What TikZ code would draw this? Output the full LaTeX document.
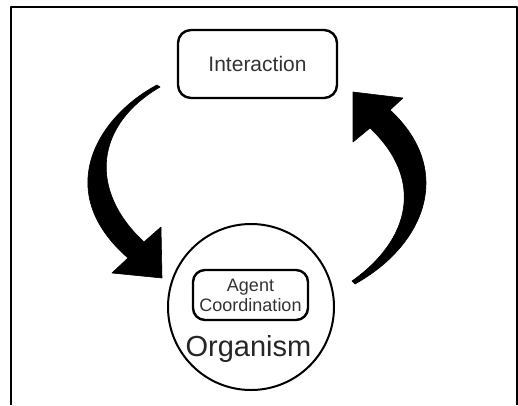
\documentclass[tikz,border=0pt]{standalone}
\usepackage{fontspec}
\setmainfont{Liberation Sans}

\begin{document}
\begin{tikzpicture}[x=1pt,y=-1pt,line join=round,
  box node/.style={draw,rounded corners=13pt,line width=2.4pt,align=center,inner sep=0pt,text=black!80},
  big arrow/.style={fill=black,draw=black,line width=0.6pt}]
\useasboundingbox (0,0) rectangle (518,405);
% frame
\draw[line width=2pt] (11,405) -- (11,7) -- (517,7) -- (517,405);

\node[box node,minimum width=159pt,minimum height=68pt,font=\fontsize{21}{24}\selectfont] (inter) at (257.5,64) {Interaction};
\node[circle,draw,line width=2pt,minimum size=166pt,inner sep=0pt] (org) at (251,307) {};
\node[box node,rounded corners=12pt,minimum width=115pt,minimum height=50pt,font=\fontsize{18}{20}\selectfont] (agent) at (250.5,295) {Agent\\Coordination};
\node[font=\fontsize{29}{32}\selectfont,anchor=base,text=black!85] (orgname) at (248.5,356) {Organism};

% interaction -> organism
\path[big arrow] (157,85) .. controls (100,115) and (50,190) .. (128,258) -- (112,273) -- (162,278)
   -- (161,227) -- (144,242) .. controls (88,190) and (95,125) .. (160,87) -- cycle;
% organism -> interaction
\path[big arrow] (355,284) .. controls (425,245) and (455,170) .. (390,110) -- (403,98) -- (353,92)
   -- (353,142) -- (370,128) .. controls (425,180) and (410,240) .. (352,281) -- cycle;
\end{tikzpicture}
\end{document}
